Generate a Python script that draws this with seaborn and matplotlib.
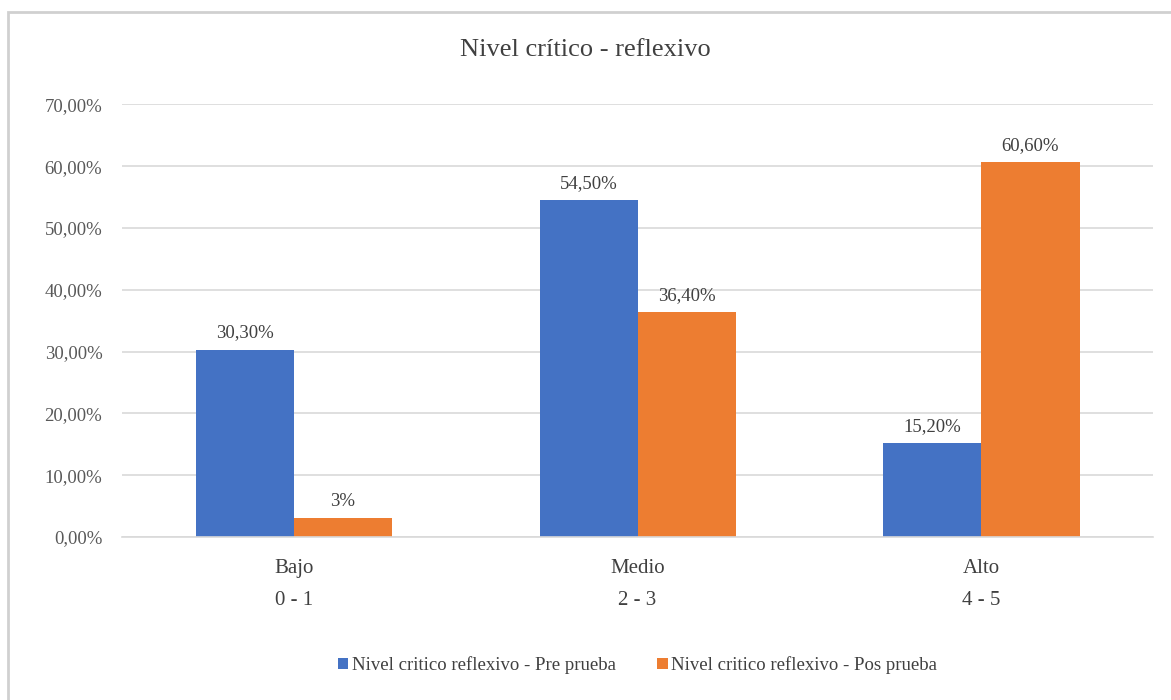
import pandas as pd
import numpy as np
import matplotlib
matplotlib.use("Agg")
import matplotlib.pyplot as plt
import seaborn as sns
from matplotlib.patches import Rectangle

# data
categories = ["Bajo\n0 - 1", "Medio\n2 - 3", "Alto\n4 - 5"]
series = ["Nivel critico reflexivo - Pre prueba", "Nivel critico reflexivo - Pos prueba"]
pre_values = [30.30, 54.50, 15.20]
pos_values = [3.00, 36.40, 60.60]
pre_labels = ["30,30%", "54,50%", "15,20%"]
pos_labels = ["3%", "36,40%", "60,60%"]
yticks = [0, 10, 20, 30, 40, 50, 60, 70]

df = pd.DataFrame({
    "categoria": categories * 2,
    "serie": [series[0]] * 3 + [series[1]] * 3,
    "valor": pre_values + pos_values,
})

sns.set_style("white")
plt.rcParams["font.family"] = ["Liberation Serif", "DejaVu Serif"]

fig = plt.figure(figsize=(11.71, 7.0), dpi=100)
ax = fig.add_axes([0.104, 0.233, 0.881, 0.618])

sns.barplot(data=df, x="categoria", y="valor", hue="serie",
            palette=["#4472C4", "#ED7D31"], width=0.57, saturation=1,
            linewidth=0, ax=ax, legend=True)

for cont, labs in zip(ax.containers, [pre_labels, pos_labels]):
    ax.bar_label(cont, labels=labs, padding=6, fontsize=13.5, color="#404040")

ax.set_ylim(0, 70)
ax.set_xlim(-0.5, 2.5)
ax.set_yticks(yticks)
ax.set_yticklabels([f"{v:.2f}%".replace(".", ",") for v in yticks])
ax.yaxis.grid(True, color="#d9d9d9", linewidth=1.2)
ax.set_axisbelow(True)
for s in ["top", "right", "left"]:
    ax.spines[s].set_visible(False)
ax.spines["bottom"].set_color("#d9d9d9")
ax.spines["bottom"].set_linewidth(1.2)
ax.tick_params(axis="y", labelsize=13.5, colors="#595959", length=0, pad=14)
ax.tick_params(axis="x", labelsize=15, colors="#404040", length=0, pad=16)
for t in ax.get_xticklabels():
    t.set_linespacing(1.9)
ax.set_xlabel("")
ax.set_ylabel("")

ax.legend(loc="center", bbox_to_anchor=(0.5, -0.296), ncol=2, frameon=False,
          fontsize=13.5, handlelength=0.55, handleheight=0.55, handletextpad=0.2,
          columnspacing=2.2, labelcolor="#404040")

fig.text(0.5, 0.928, "Nivel crítico - reflexivo", ha="center", va="center",
         fontsize=19, color="#404040")

fig.patches.append(Rectangle((0.007, -0.01), 1.0, 0.993, transform=fig.transFigure,
                             fill=False, edgecolor="#d0d0d0", linewidth=2))

fig.savefig("out.png", dpi=100)
